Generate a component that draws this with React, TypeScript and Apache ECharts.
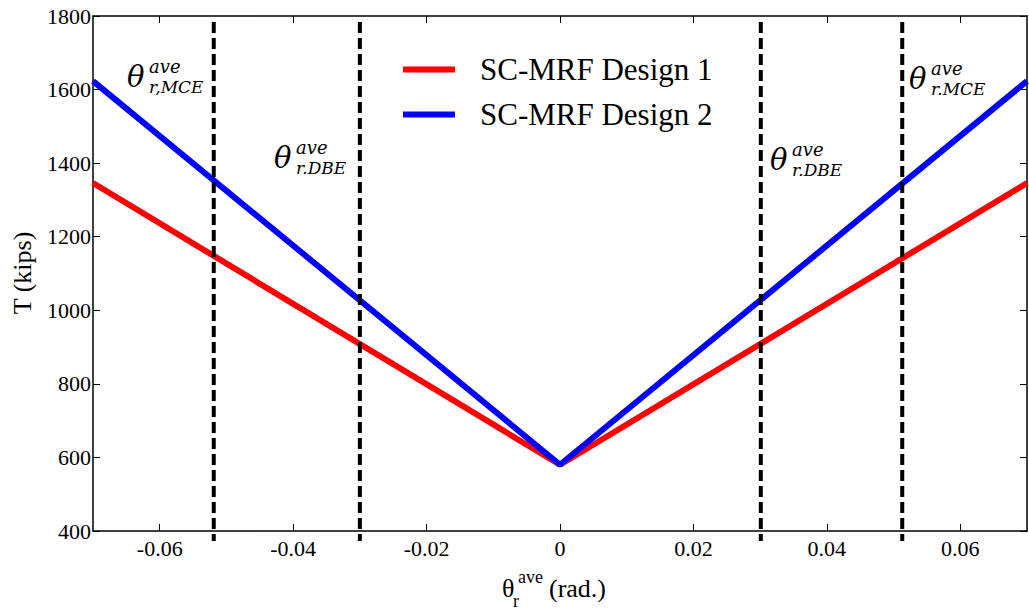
import React, { useEffect, useRef } from "react";
import * as echarts from "echarts";

const xTicks = [-0.06, -0.04, -0.02, 0, 0.02, 0.04, 0.06];
const design1X = [-0.07, 0, 0.07];
const design1Y = [1346, 580, 1346];
const design2X = [-0.07, 0, 0.07];
const design2Y = [1623, 580, 1623];
const seriesNames = ["SC-MRF Design 1", "SC-MRF Design 2"];
const limitX = [-0.0519, -0.03, 0.0301, 0.0513];
const limitNames = ["r,MCE", "r.DBE", "r.DBE", "r.MCE"];

export default function App() {
  const ref = useRef<HTMLDivElement>(null);
  useEffect(() => {
    if (!ref.current) return;
    const chart = echarts.init(ref.current, null, { renderer: "svg" });
    const serif = "Liberation Serif";
    const mathFont = "DejaVu Serif";
    const axisLine = { show: true, onZero: false, lineStyle: { color: "#000", width: 1.5 } };
    const tick = { show: true, inside: true, length: 7, lineStyle: { color: "#000", width: 1 } };

    const dashed = limitX.map((x) => ({
      type: "line",
      data: [[x, 1784], [x, 373]],
      symbol: "none",
      clip: false,
      silent: true,
      lineStyle: { color: "#000", width: 4, type: [11, 5] },
      z: 5,
    }));

    const annPos = [
      [127, 77],
      [274, 158],
      [770, 160],
      [909, 79],
    ];
    const txt = (text: string, x: number, y: number, size: number, family: string, italic = false, extra: any = {}) => ({
      type: "text",
      x,
      y,
      rotation: extra.rotation || 0,
      style: {
        text,
        fontFamily: family,
        fontSize: size,
        fontStyle: italic ? "italic" : "normal",
        fill: "#000",
        textAlign: extra.align || "left",
        textVerticalAlign: "middle",
      },
    });
    const annotations: any[] = [];
    annPos.forEach(([x, y], i) => {
      annotations.push(txt("θ", x, y, 29, mathFont, true));
      annotations.push(txt("ave", x + 22, y - 11, 18, mathFont, true));
      annotations.push(txt(limitNames[i], x + 22, y + 10, 17, mathFont, true));
    });

    const option: any = {
      animation: false,
      backgroundColor: "#fff",
      textStyle: { fontFamily: serif },
      grid: { left: 93, right: 2, top: 16, bottom: 80, containLabel: false },
      legend: {
        data: seriesNames,
        orient: "vertical",
        left: 398,
        top: 49,
        itemWidth: 52,
        itemHeight: 6,
        itemGap: 14,
        icon: "rect",
        textStyle: { fontFamily: serif, fontSize: 31, color: "#000", lineHeight: 30, padding: [0, 0, 0, 20] },
      },
      xAxis: [
        {
          type: "value",
          min: -0.07,
          max: 0.07,
          position: "bottom",
          axisLine,
          axisTick: { ...tick, customValues: xTicks },
          splitLine: { show: false },
          axisLabel: {
            customValues: xTicks,
            margin: 6,
            fontFamily: serif,
            fontSize: 22,
            color: "#000",
            formatter: (v: number) => (Math.abs(v) < 1e-9 ? "0" : v.toFixed(2)),
          },
        },
        {
          type: "value",
          min: -0.07,
          max: 0.07,
          position: "top",
          axisLine,
          axisTick: { ...tick, customValues: xTicks },
          splitLine: { show: false },
          axisLabel: { show: false, customValues: xTicks },
        },
      ],
      yAxis: [
        {
          type: "value",
          min: 400,
          max: 1800,
          interval: 200,
          position: "left",
          axisLine,
          axisTick: tick,
          splitLine: { show: false },
          axisLabel: {
            margin: 2,
            fontFamily: serif,
            fontSize: 22,
            color: "#000",
            formatter: (v: number) => String(v),
          },
        },
        {
          type: "value",
          min: 400,
          max: 1800,
          interval: 200,
          position: "right",
          axisLine,
          axisTick: tick,
          splitLine: { show: false },
          axisLabel: { show: false },
        },
      ],
      series: [
        {
          name: seriesNames[0],
          type: "line",
          data: design1X.map((x, i) => [x, design1Y[i]]),
          symbol: "none",
          color: "#ff0000",
          lineStyle: { color: "#ff0000", width: 6 },
          z: 3,
        },
        {
          name: seriesNames[1],
          type: "line",
          data: design2X.map((x, i) => [x, design2Y[i]]),
          symbol: "none",
          color: "#0000ff",
          lineStyle: { color: "#0000ff", width: 6 },
          z: 4,
        },
        ...dashed,
      ],
      graphic: [
        ...annotations,
        txt("T (kips)", 22, 273, 26, serif, false, { rotation: Math.PI / 2, align: "center" }),
        txt("θ", 502, 588, 26, serif),
        txt("ave", 518, 577, 18, serif),
        txt("r", 513, 601, 18, serif),
        txt("(rad.)", 549, 588, 26, serif),
      ],
    };
    chart.setOption(option);
    return () => chart.dispose();
  }, []);
  return <div ref={ref} style={{ position: "absolute", left: 0, top: 0, width: 1029, height: 611 }} />;
}
